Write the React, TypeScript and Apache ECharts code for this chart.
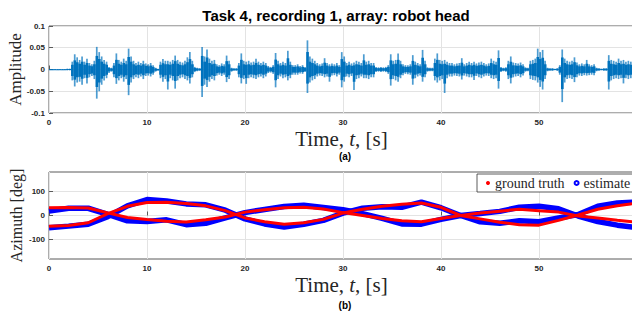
import React, { useEffect, useRef } from 'react';
import * as echarts from 'echarts';

const TITLE = 'Task 4, recording 1, array: robot head';
const X_TICKS = [0, 10, 20, 30, 40, 50];
const AMP_TICKS = [-0.1, -0.05, 0, 0.05, 0.1];
const AZ_TICKS = [-100, 0, 100];
const BIN = 0.25;

// peak envelope of the recording per 0.25 s bin
const WAVE_UPPER = [
  .001,.001,.001,.001, .001,.001,.001,.002, .002,.018,.035,.028, .022,.030,.018,.025, .015,.012,.020,.052,
  .040,.030,.022,.018, .006,.004,.015,.037, .022,.018,.025,.020, .048,.030,.020,.015, .018,.015,.020,.014,
  .012,.015,.010,.004, .002,.018,.024,.020, .020,.018,.022,.032, .022,.018,.016,.020, .028,.040,.020,.006,
  .004,.003,.052,.030, .046,.025,.020,.022, .012,.010,.014,.012, .032,.020,.004,.003, .003,.015,.037,.020,
  .018,.020,.016,.018, .025,.018,.015,.018, .015,.008,.006,.010, .038,.020,.015,.018, .015,.043,.018,.010,
  .010,.012,.008,.010, .006,.067,.030,.025, .020,.015,.012,.014, .026,.015,.012,.014, .012,.015,.010,.040,
  .030,.015,.018,.014, .016,.020,.018,.015, .035,.018,.020,.015, .015,.006,.005,.006, .005,.006,.010,.035,
  .020,.022,.037,.020, .012,.010,.010,.012, .033,.018,.015,.012, .045,.020,.005,.004, .004,.025,.037,.022,
  .020,.022,.018,.015, .015,.012,.014,.015, .026,.012,.015,.018, .015,.018,.014,.016, .018,.015,.012,.014,
  .025,.020,.018,.044, .006,.004,.005,.020, .030,.016,.015,.014, .016,.012,.005,.004, .020,.022,.025,.048,
  .040,.045,.020,.004, .003,.003,.002,.003, .010,.046,.025,.020, .018,.020,.028,.016, .012,.014,.012,.022,
  .012,.010,.012,.004, .003,.002,.003,.003, .033,.022,.020,.018, .025,.020,.022,.018, .020,.018,.015,.015,
];
const WAVE_LOWER = [
  -.001,-.001,-.001,-.001, -.001,-.001,-.001,-.002, -.002,-.025,-.039,-.030, -.028,-.035,-.020,-.032, -.018,-.015,-.022,-.067,
  -.050,-.035,-.025,-.020, -.008,-.005,-.018,-.033, -.025,-.020,-.028,-.022, -.059,-.030,-.022,-.018, -.020,-.016,-.022,-.015,
  -.014,-.016,-.012,-.005, -.003,-.020,-.028,-.022, -.046,-.020,-.025,-.044, -.025,-.020,-.018,-.022, -.025,-.032,-.018,-.006,
  -.004,-.003,-.063,-.035, -.040,-.028,-.022,-.025, -.014,-.012,-.015,-.012, -.029,-.022,-.005,-.003, -.003,-.018,-.032,-.022,
  -.033,-.020,-.018,-.020, -.022,-.018,-.016,-.020, -.016,-.008,-.007,-.010, -.041,-.022,-.016,-.020, -.018,-.025,-.020,-.012,
  -.012,-.012,-.009,-.010, -.006,-.054,-.030,-.025, -.022,-.016,-.014,-.015, -.018,-.016,-.028,-.014, -.013,-.016,-.012,-.041,
  -.028,-.016,-.018,-.015, -.047,-.022,-.020,-.016, -.020,-.020,-.022,-.018, -.018,-.006,-.005,-.006, -.005,-.006,-.010,-.037,
  -.022,-.025,-.028,-.020, -.013,-.010,-.011,-.012, -.035,-.020,-.016,-.014, -.028,-.018,-.005,-.004, -.004,-.025,-.030,-.025,
  -.022,-.054,-.020,-.016, -.016,-.014,-.015,-.016, -.023,-.014,-.016,-.018, -.018,-.024,-.015,-.018, -.020,-.016,-.014,-.015,
  -.020,-.022,-.020,-.044, -.006,-.004,-.005,-.022, -.032,-.018,-.016,-.015, -.018,-.014,-.005,-.004, -.022,-.024,-.025,-.030,
  -.040,-.046,-.022,-.004, -.003,-.003,-.002,-.003, -.012,-.075,-.030,-.022, -.020,-.022,-.029,-.018, -.014,-.015,-.013,-.014,
  -.013,-.012,-.013,-.004, -.003,-.002,-.003,-.003, -.046,-.025,-.022,-.020, -.022,-.020,-.032,-.020, -.022,-.020,-.018,-.016,
];

const AZ_T = [0, 2, 4, 6, 8, 10, 12, 14, 16, 18, 20, 22, 24, 26, 28, 30, 32, 34, 36, 38, 40, 42, 44, 46, 48, 50, 52, 54, 56, 58, 60];
const GT_A = [32, 33, 31, 11, -8, -17, -24, -27, -18, -6, 14, 24, 32, 34, 27, 12, 0, -12, -22, -26, -12, 0, 10, 18, 26, 20, 14, -2, -10, -20, -28];
const GT_B = [-44, -41, -30, 8, 38, 54, 55, 50, 40, 20, -10, -26, -36, -30, -16, 10, 26, 38, 47, 52, 34, 0, -14, -28, -38, -40, -20, 2, 26, 40, 52];
const EST_A = [18, 30, 30, 5, -22, -25, -18, -38, -32, -10, 12, 25, 37, 42, 33, 24, 8, -12, -35, -36, -16, 0, 8, 17, 34, 38, 28, -2, -25, -40, -50];
const EST_B = [-51, -44, -36, -5, 40, 66, 60, 48, 44, 22, -14, -35, -48, -36, -20, 10, 30, 36, 34, 55, 32, 0, -26, -32, -22, -26, -10, 4, 38, 52, 56];

const SANS = '"Liberation Sans", Arial, sans-serif';
const SERIF = '"Liberation Serif", "Times New Roman", serif';
const WAVE_C = '#0072BD';
const RED = '#FF0000';
const BLUE = '#0000FF';
const AXC = '#5a5a5a';
const GRIDC = '#e3e3e3';
const TXT = '#262626';
const X_MAX = 59.7;

export default function App() {
  const ref = useRef<HTMLDivElement>(null);
  useEffect(() => {
    const chart = echarts.init(ref.current as HTMLDivElement, null, { renderer: 'svg' });
    const waveData = WAVE_UPPER.map((u, i) => [i * BIN, u, WAVE_LOWER[i]]);
    const tickLabel = { fontFamily: SANS, fontWeight: 'bold' as const, fontSize: 8, color: TXT };
    const xAxisBase = (gi: number) => ({
      gridIndex: gi,
      type: 'value' as const,
      min: 0,
      max: X_MAX,
      interval: 10,
      axisLine: { show: false },
      axisTick: { inside: true, length: 4, lineStyle: { color: AXC }, customValues: X_TICKS },
      axisLabel: { ...tickLabel, margin: 5, customValues: X_TICKS },
      splitLine: { show: true, lineStyle: { color: GRIDC, width: 1 } },
      name: 'Time, {i|t}, [s]',
      nameLocation: 'middle' as const,
      nameGap: 15,
      nameMoveOverlap: false,
      nameTextStyle: {
        fontFamily: SERIF, fontSize: 21, color: TXT, lineHeight: 21,
        rich: { i: { fontFamily: SERIF, fontStyle: 'italic', fontSize: 21, color: TXT, lineHeight: 21 } },
      },
    });
    const lineSeries = (name: string, data: number[], color: string, width: number, z: number) => ({
      type: 'line' as const,
      name,
      xAxisIndex: 1,
      yAxisIndex: 1,
      data: AZ_T.map((t, i) => [t, data[i]]),
      showSymbol: false,
      lineStyle: { color, width },
      itemStyle: { color },
      z,
    });
    const gridBase = { left: 49, right: -2, height: 87, show: true, borderColor: AXC, borderWidth: 1, containLabel: false, outerBoundsMode: 'none' };
    const option: any = {
      animation: false,
      backgroundColor: '#fff',
      title: {
        text: TITLE,
        left: 336,
        top: 8,
        padding: 0,
        textAlign: 'center',
        textStyle: { fontFamily: SANS, fontWeight: 'bold', fontSize: 15, color: '#000' },
      },
      grid: [
        { ...gridBase, top: 26 },
        { ...gridBase, top: 172 },
      ],
      xAxis: [xAxisBase(0), xAxisBase(1)],
      yAxis: [
        {
          gridIndex: 0, type: 'value', min: -0.1, max: 0.1, interval: 0.05,
          axisLine: { show: false },
          axisTick: { inside: true, length: 4, lineStyle: { color: AXC }, customValues: AMP_TICKS },
          axisLabel: { ...tickLabel, margin: 4, customValues: AMP_TICKS },
          splitLine: { show: true, lineStyle: { color: GRIDC } },
          name: 'Amplitude', nameLocation: 'middle', nameRotate: 90, nameGap: 25, nameMoveOverlap: false,
          nameTextStyle: { fontFamily: SERIF, fontSize: 17, color: TXT },
        },
        {
          gridIndex: 1, type: 'value', min: -180, max: 180,
          axisLine: { show: false },
          axisTick: { inside: true, length: 4, lineStyle: { color: AXC }, customValues: AZ_TICKS },
          axisLabel: { ...tickLabel, margin: 4, customValues: AZ_TICKS },
          splitLine: { show: true, lineStyle: { color: GRIDC } },
          name: 'Azimuth [deg]', nameLocation: 'middle', nameRotate: 90, nameGap: 25, nameMoveOverlap: false,
          nameTextStyle: { fontFamily: SERIF, fontSize: 16, color: TXT },
        },
      ],
      legend: {
        data: [
          { name: 'ground truth', icon: 'circle' },
          { name: 'estimate', icon: 'emptyCircle' },
        ],
        left: 477,
        top: 174,
        width: 200,
        orient: 'horizontal',
        itemWidth: 4,
        itemHeight: 4,
        itemGap: 9,
        padding: [2, 10, 2, 9],
        backgroundColor: '#fff',
        borderColor: '#333',
        borderWidth: 0.8,
        borderRadius: 0,
        selectedMode: false,
        textStyle: { fontFamily: SERIF, fontSize: 14, color: TXT },
      },
      graphic: [
        { type: 'text', x: 345, y: 156, style: { text: '(a)', font: 'bold 10px "Liberation Sans"', fill: '#000', align: 'center', verticalAlign: 'middle', textAlign: 'center', textVerticalAlign: 'middle' } },
        { type: 'text', x: 345, y: 305, style: { text: '(b)', font: 'bold 10px "Liberation Sans"', fill: '#000', align: 'center', verticalAlign: 'middle', textAlign: 'center', textVerticalAlign: 'middle' } },
      ],
      series: [
        {
          type: 'custom',
          name: 'signal',
          xAxisIndex: 0,
          yAxisIndex: 0,
          clip: true,
          silent: true,
          data: waveData,
          encode: { x: 0, y: [1, 2] },
          renderItem: (params: any, api: any) => {
            const t = api.value(0);
            const u = api.value(1);
            const l = api.value(2);
            const top = api.coord([t, u]);
            const bot = api.coord([t, l]);
            const ct = api.coord([t, u * 0.6]);
            const cb = api.coord([t, l * 0.6]);
            const w = api.size([BIN, 0])[0];
            const ch = Math.max(1, cb[1] - ct[1]);
            return {
              type: 'group',
              children: [
                { type: 'rect', shape: { x: top[0] + w * 0.15, y: top[1], width: w * 0.7, height: Math.max(1, bot[1] - top[1]) }, style: { fill: WAVE_C, opacity: 0.7 } },
                { type: 'rect', shape: { x: top[0], y: ct[1], width: w + 0.2, height: ch }, style: { fill: WAVE_C } },
              ],
            };
          },
        },
        lineSeries('estimate', EST_A, BLUE, 5.5, 2),
        lineSeries('estimate', EST_B, BLUE, 5.5, 2),
        lineSeries('ground truth', GT_A, RED, 3, 3),
        lineSeries('ground truth', GT_B, RED, 3, 3),
      ],
    };
    chart.setOption(option);
    return () => chart.dispose();
  }, []);
  return <div ref={ref} style={{ position: 'absolute', left: 0, top: 0, width: 632, height: 311, background: '#fff' }} />;
}
